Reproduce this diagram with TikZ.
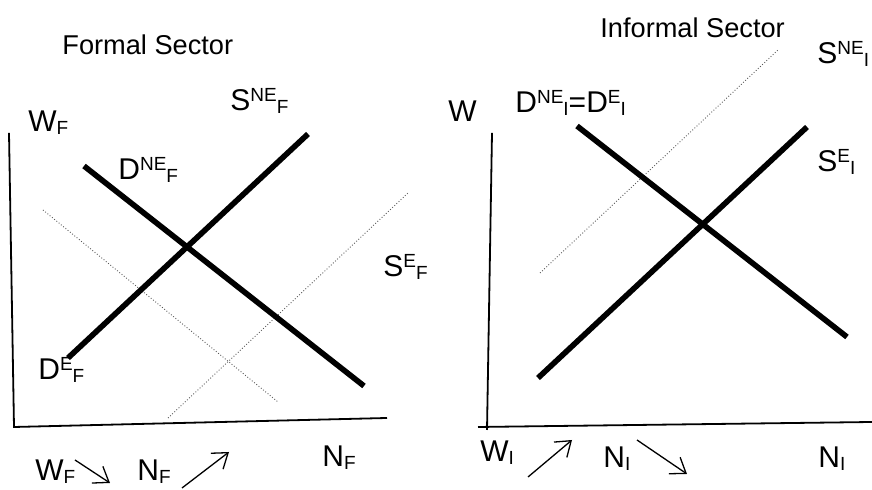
\documentclass[tikz,border=0pt]{standalone}
\usepackage{fontspec}
\setmainfont{Liberation Sans}
\usetikzlibrary{arrows.meta}
\newcommand{\upl}[1]{\raisebox{4.8pt}{\fontsize{9.5}{10}\selectfont #1}}
\newcommand{\dnl}[1]{\raisebox{-1.5pt}{\fontsize{9.5}{10}\selectfont #1}}

\begin{document}
\begin{tikzpicture}[x=0.5pt,y=0.5pt,
	every node/.style={font=\fontsize{15}{17}\selectfont, inner sep=0pt, anchor=base west},
	axis/.style={line width=0.9pt},
	curve/.style={line width=2.8pt},
	shifted/.style={densely dotted, gray!70!black, line width=0.45pt},
	move/.style={-{Straight Barb[length=7pt,width=10pt]}, line width=0.65pt}]
	\useasboundingbox (0,0) rectangle (872,490);
	\coordinate (fo) at (14,63);
	\coordinate (fy) at (9,357);
	\coordinate (fx) at (387,72);
	\draw[axis] (fy) -- (fo) -- (fx);
	\coordinate (fd1) at (84,324);
	\coordinate (fd2) at (364,104);
	\coordinate (fs1) at (68,132);
	\coordinate (fs2) at (308,356);
	\coordinate (fda) at (43,280);
	\coordinate (fdb) at (278,88);
	\coordinate (fsa) at (168,72);
	\coordinate (fsb) at (408,297);
	\draw[shifted] (fda) -- (fdb);
	\draw[shifted] (fsa) -- (fsb);
	\draw[curve] (fd1) -- (fd2);
	\draw[curve] (fs1) -- (fs2);
	\node[font=\fontsize{13.6}{15}\selectfont] (ftitle) at (62,435) {Formal Sector};
	\node (fwlab) at (28,358) {W\dnl{F}};
	\node (fsne) at (230,379) {S\upl{NE}\dnl{F}};
	\node (fdne) at (118,310) {D\upl{NE}\dnl{F}};
	\node (fse) at (383,213) {S\upl{E}\dnl{F}};
	\node (fde) at (38,110) {D\upl{E}\dnl{F}};
	\node (fnlab) at (322,23) {N\dnl{F}};
	\node (fw) at (35,9) {W\dnl{F}};
	\node (fn) at (137,9) {N\dnl{F}};
	\coordinate (fa1) at (75,30);
	\coordinate (fa2) at (110,7);
	\coordinate (fb1) at (182,2);
	\coordinate (fb2) at (229,38);
	\draw[move] (fa1) -- (fa2);
	\draw[move] (fb1) -- (fb2);
	\coordinate (iy) at (492,357);
	\coordinate (iyb) at (487,60);
	\coordinate (ixa) at (478,63);
	\coordinate (ix) at (872,68);
	\draw[axis] (iy) -- (iyb);
	\draw[axis] (ixa) -- (ix);
	\coordinate (id1) at (577,364);
	\coordinate (id2) at (847,153);
	\coordinate (is1) at (538,112);
	\coordinate (is2) at (807,363);
	\coordinate (isa) at (540,217);
	\coordinate (isb) at (778,440);
	\draw[shifted] (isa) -- (isb);
	\draw[curve] (id1) -- (id2);
	\draw[curve] (is1) -- (is2);
	\node[font=\fontsize{13.6}{15}\selectfont] (ititle) at (600,452) {Informal Sector};
	\node (isne) at (817,426) {S\upl{NE}\dnl{I}};
	\node (iwlab) at (448,368) {W};
	\node (idd) at (515,377) {D\upl{NE}\dnl{I}=D\upl{E}\dnl{I}};
	\node (ise) at (817,318) {S\upl{E}\dnl{I}};
	\node (iw) at (480,28) {W\dnl{I}};
	\node (in) at (603,22) {N\dnl{I}};
	\node (inlab) at (818,22) {N\dnl{I}};
	\coordinate (ia1) at (528,13);
	\coordinate (ia2) at (572,50);
	\coordinate (ib1) at (637,50);
	\coordinate (ib2) at (687,16);
	\draw[move] (ia1) -- (ia2);
	\draw[move] (ib1) -- (ib2);
\end{tikzpicture}
\end{document}
